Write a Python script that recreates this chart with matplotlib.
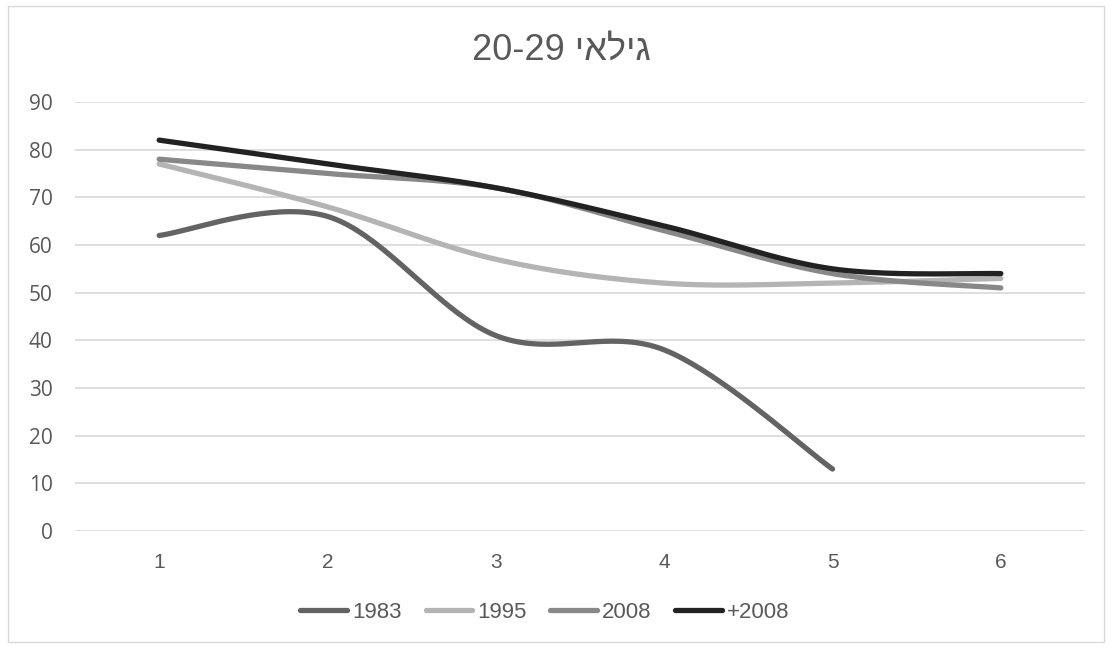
import numpy as np
import matplotlib
matplotlib.use("Agg")
import matplotlib.pyplot as plt
from matplotlib.patches import Rectangle

plt.rcParams['font.family'] = ['Liberation Sans', 'DejaVu Sans']

x_labels = [1, 2, 3, 4, 5, 6]
s1983 = [62, 66, 41, 38, 13, None]
s1995 = [77, 68, 57, 52, 52, 53]
s2008 = [78, 75, 72, 63, 54, 51]
s2008p = [82, 77, 72, 64, 55, 54]
series_names = ['1983', '1995', '2008', '+2008']
colors = ['#636363', '#b4b4b4', '#888888', '#222222']
title = "20-29 יאליג"  # visual order of "גילאי 20-29"


def smooth(xs, ys, n=40):
    xs = np.asarray(xs, float)
    ys = np.asarray(ys, float)
    px, py = [], []
    m = len(xs)
    for i in range(m - 1):
        p0 = (xs[max(i - 1, 0)], ys[max(i - 1, 0)])
        p1 = (xs[i], ys[i])
        p2 = (xs[i + 1], ys[i + 1])
        p3 = (xs[min(i + 2, m - 1)], ys[min(i + 2, m - 1)])
        c1 = (p1[0] + (p2[0] - p0[0]) / 6, p1[1] + (p2[1] - p0[1]) / 6)
        c2 = (p2[0] - (p3[0] - p1[0]) / 6, p2[1] - (p3[1] - p1[1]) / 6)
        t = np.linspace(0, 1, n)
        bx = (1 - t) ** 3 * p1[0] + 3 * (1 - t) ** 2 * t * c1[0] + 3 * (1 - t) * t ** 2 * c2[0] + t ** 3 * p2[0]
        by = (1 - t) ** 3 * p1[1] + 3 * (1 - t) ** 2 * t * c1[1] + 3 * (1 - t) * t ** 2 * c2[1] + t ** 3 * p2[1]
        px.extend(bx); py.extend(by)
    return np.array(px), np.array(py)


fig = plt.figure(figsize=(11.12, 6.48), dpi=100)
ax = fig.add_axes([75 / 1112, 1 - 531 / 648, (1085 - 75) / 1112, (531 - 102) / 648])

for name, vals, c in zip(series_names, [s1983, s1995, s2008, s2008p], colors):
    xs = [x for x, v in zip(x_labels, vals) if v is not None]
    ys = [v for v in vals if v is not None]
    sx, sy = smooth(xs, ys)
    ax.plot(sx, sy, color=c, lw=3.8, solid_capstyle='round', label=name, zorder=3)

ax.set_xlim(0.5, 6.5)
ax.set_ylim(0, 90)
ax.set_yticks(range(0, 91, 10))
ax.set_xticks(x_labels)
ax.grid(axis='y', color='#d9d9d9', lw=1.2)
ax.set_axisbelow(True)
for s in ax.spines.values():
    s.set_visible(False)
ax.tick_params(length=0, colors='#595959')
ax.tick_params(axis='y', pad=16, labelsize=15)
for lab in ax.get_yticklabels():
    lab.set_family(['Open Sans', 'DejaVu Sans'])
ax.tick_params(axis='x', pad=16, labelsize=15)

fig.text(561 / 1112, 1 - 50 / 648, title, ha='center', va='center', fontsize=26, color='#595959')

leg = fig.legend(loc='center', bbox_to_anchor=(545 / 1112, 1 - 612 / 648), ncol=4, frameon=False,
                 fontsize=16, handlelength=2.1, handletextpad=0.22, columnspacing=1.08)
for t in leg.get_texts():
    t.set_color('#595959')

fig.patches.append(Rectangle((8 / 1112, 1 - 642 / 648), 1096 / 1112, 636 / 648, transform=fig.transFigure,
                             fill=False, edgecolor='#d9d9d9', lw=1))

fig.savefig('out.png', dpi=100)
